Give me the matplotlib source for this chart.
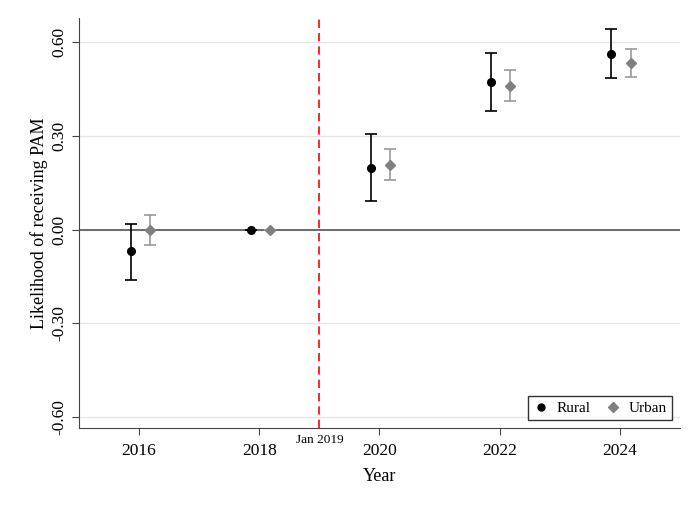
import matplotlib.pyplot as plt
from matplotlib.lines import Line2D

plt.rcParams["font.family"] = ["Liberation Serif", "DejaVu Serif"]

years = [2016, 2018, 2020, 2022, 2024]
rural_est = [-0.070, 0.0, 0.198, 0.471, 0.563]
rural_lo = [-0.160, 0.0, 0.091, 0.379, 0.484]
rural_hi = [0.019, 0.0, 0.305, 0.566, 0.642]
urban_est = [0.0, 0.0, 0.208, 0.461, 0.533]
urban_lo = [-0.050, 0.0, 0.158, 0.410, 0.487]
urban_hi = [0.048, 0.0, 0.258, 0.512, 0.578]
yticks = [-0.60, -0.30, 0.00, 0.30, 0.60]

fig = plt.figure(figsize=(6.98, 5.07), dpi=100)
ax = fig.add_axes([0.1132, 0.1558, 0.8608, 0.8087])

for t in yticks:
    ax.axhline(t, color="#e6e6e6", lw=1, zorder=0)
ax.axhline(0, color="#555555", lw=1.2, zorder=1)
ax.axvline(2019, color="red", lw=1.2, ls=(0, (5, 3)), zorder=1)

rx = [y - 0.14 for y in years]
ux = [y + 0.18 for y in years]
ax.errorbar(rx, rural_est,
            yerr=[[e - l for e, l in zip(rural_est, rural_lo)],
                  [h - e for e, h in zip(rural_est, rural_hi)]],
            fmt="o", color="black", ecolor="black", elinewidth=1.2,
            capsize=4, capthick=1.2, markersize=5.5, zorder=3)
ax.errorbar(ux, urban_est,
            yerr=[[e - l for e, l in zip(urban_est, urban_lo)],
                  [h - e for e, h in zip(urban_est, urban_hi)]],
            fmt="D", color="#808080", ecolor="#9a9a9a", elinewidth=1.2,
            capsize=4, capthick=1.2, markersize=5.5, zorder=3)

ax.set_xlim(2015, 2025)
ax.set_ylim(-0.635, 0.677)
ax.set_xticks(years)
ax.set_yticks(yticks)
ax.set_yticklabels([f"{t:.2f}" for t in yticks], rotation=90, va="center")
ax.tick_params(axis="both", labelsize=12.5, length=5, color="#444444")
ax.tick_params(axis="x", pad=6)
for s in ["top", "right"]:
    ax.spines[s].set_visible(False)
for s in ["left", "bottom"]:
    ax.spines[s].set_color("#444444")

ax.text(2019, -0.655, "Jan 2019", ha="center", va="top", fontsize=9.5)
ax.set_xlabel("Year", fontsize=13, labelpad=6)
ax.set_ylabel("Likelihood of receiving PAM", fontsize=13, labelpad=2)

handles = [
    Line2D([], [], ls="none", marker="o", color="black", markersize=5),
    Line2D([], [], ls="none", marker="D", color="#808080", markersize=5),
]
leg = ax.legend(handles, ["Rural", "Urban"], loc="lower right", ncol=2,
                fontsize=11, frameon=True, fancybox=False, edgecolor="black",
                handletextpad=0.5, columnspacing=1.0, borderaxespad=0.5,
                handlelength=1.0, borderpad=0.35)
leg.get_frame().set_linewidth(1.0)

fig.savefig("out.png", dpi=100)
